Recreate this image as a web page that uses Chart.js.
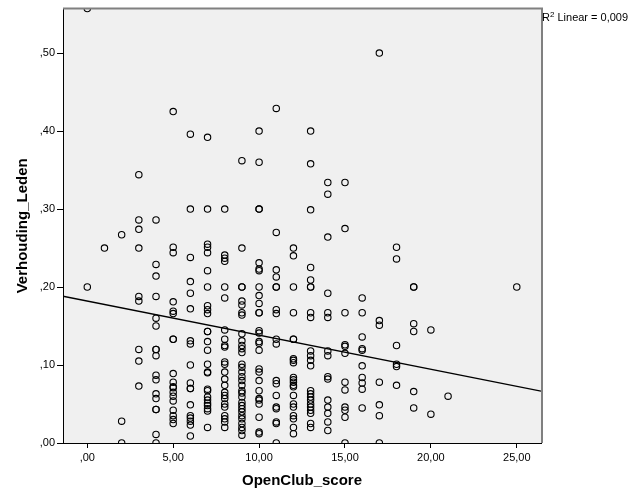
<!DOCTYPE html>
<html>
<head>
<meta charset="utf-8">
<script src="https://cdn.jsdelivr.net/npm/chart.js@4"></script>
<style>
  html, body { margin: 0; padding: 0; background: #fff; }
  canvas { display: block; }
</style>
</head>
<body>
<canvas id="scatter" width="629" height="504"></canvas>
<script>
// OpenClub_score values that occur (x), with the Verhouding_Leden values read per score
const scores = [0, 1, 2, 3, 4, 5, 6, 7, 8, 9, 10, 11, 12, 13, 14, 15, 16, 17, 18, 19, 20, 21, 25];
const ratiosByScore = [
    [0.557, 0.200],
    [0.250],
    [0.267, 0.028, 0.000],
    [0.344, 0.286, 0.274, 0.250, 0.188, 0.182, 0.120, 0.105, 0.073],
    [0.286, 0.229, 0.214, 0.188, 0.160, 0.150, 0.120, 0.120, 0.112, 0.087, 0.081, 0.063, 0.057, 0.043, 0.043, 0.011, 0.000],
    [0.425, 0.251, 0.244, 0.181, 0.169, 0.166, 0.133, 0.133, 0.089, 0.078, 0.072, 0.071, 0.065, 0.060, 0.054, 0.042, 0.035, 0.030, 0.025],
    [0.396, 0.300, 0.238, 0.207, 0.192, 0.172, 0.131, 0.127, 0.100, 0.077, 0.070, 0.070, 0.049, 0.035, 0.032, 0.028, 0.023, 0.009],
    [0.392, 0.300, 0.255, 0.251, 0.244, 0.221, 0.200, 0.176, 0.171, 0.166, 0.143, 0.143, 0.130, 0.119, 0.101, 0.091, 0.090, 0.069, 0.067, 0.059, 0.055, 0.051, 0.048, 0.044, 0.041, 0.020],
    [0.300, 0.241, 0.237, 0.233, 0.200, 0.186, 0.145, 0.133, 0.125, 0.123, 0.104, 0.101, 0.091, 0.082, 0.074, 0.065, 0.061, 0.057, 0.050, 0.046, 0.035, 0.031, 0.027, 0.020],
    [0.362, 0.250, 0.200, 0.200, 0.182, 0.177, 0.167, 0.164, 0.140, 0.131, 0.125, 0.121, 0.116, 0.101, 0.097, 0.091, 0.085, 0.080, 0.074, 0.067, 0.064, 0.059, 0.052, 0.048, 0.044, 0.040, 0.035, 0.031, 0.025, 0.020, 0.016, 0.010],
    [0.400, 0.360, 0.300, 0.300, 0.231, 0.223, 0.221, 0.200, 0.189, 0.179, 0.167, 0.167, 0.144, 0.141, 0.130, 0.128, 0.119, 0.095, 0.091, 0.080, 0.067, 0.057, 0.055, 0.050, 0.033, 0.014, 0.012],
    [0.429, 0.270, 0.222, 0.213, 0.200, 0.200, 0.171, 0.166, 0.133, 0.127, 0.080, 0.076, 0.061, 0.046, 0.044, 0.027, 0.025, 0.000],
    [0.250, 0.240, 0.200, 0.167, 0.133, 0.133, 0.108, 0.106, 0.103, 0.084, 0.081, 0.078, 0.074, 0.072, 0.061, 0.050, 0.046, 0.035, 0.031, 0.020, 0.012],
    [0.400, 0.358, 0.299, 0.225, 0.209, 0.200, 0.200, 0.167, 0.161, 0.118, 0.112, 0.106, 0.099, 0.067, 0.063, 0.059, 0.055, 0.050, 0.046, 0.042, 0.038, 0.025, 0.020],
    [0.334, 0.319, 0.264, 0.192, 0.167, 0.161, 0.118, 0.112, 0.085, 0.082, 0.055, 0.046, 0.038, 0.027, 0.016],
    [0.334, 0.275, 0.167, 0.126, 0.124, 0.115, 0.078, 0.068, 0.046, 0.042, 0.033, 0.000],
    [0.186, 0.167, 0.136, 0.121, 0.119, 0.099, 0.084, 0.077, 0.069, 0.045],
    [0.500, 0.157, 0.151, 0.078, 0.049, 0.035, 0.000],
    [0.251, 0.236, 0.125, 0.101, 0.098, 0.074],
    [0.200, 0.200, 0.153, 0.143, 0.066, 0.045],
    [0.145, 0.037],
    [0.060],
    [0.200]
];

// linear fit (R² = 0,009)
const fitIntercept = 0.182;
const fitSlope = -0.00437;
const rSquaredLabel = '0,009';

const xTickValues = [0, 5, 10, 15, 20, 25];
const yTickValues = [0, 0.1, 0.2, 0.3, 0.4, 0.5];
const xMin = -1.414, xMax = 26.41;
const yMin = 0, yMax = 0.557;

const points = [];
scores.forEach(function (s, i) {
    ratiosByScore[i].forEach(function (v) {
        points.push({ x: s, y: v });
    });
});

const fitPoints = [xMin, xMax].map(function (x) {
    return { x: x, y: fitIntercept + fitSlope * x };
});

const fontFamily = '"Liberation Sans", Arial, sans-serif';

// grey plot background plus the grey top/right frame and R² note
const frame = {
    id: 'frame',
    beforeDraw: function (chart) {
        const a = chart.chartArea, ctx = chart.ctx;
        ctx.save();
        ctx.fillStyle = '#f0f0f0';
        ctx.fillRect(a.left, a.top, a.right - a.left, a.bottom - a.top);
        ctx.restore();
    },
    afterDraw: function (chart) {
        const a = chart.chartArea, ctx = chart.ctx;
        ctx.save();
        ctx.strokeStyle = '#808080';
        ctx.lineWidth = 2;
        ctx.beginPath();
        ctx.moveTo(a.left, a.top);
        ctx.lineTo(a.right + 1, a.top);
        ctx.lineTo(a.right + 1, a.bottom);
        ctx.stroke();

        ctx.fillStyle = '#000';
        ctx.textBaseline = 'alphabetic';
        let x = a.right + 1;
        const y = a.top + 12;
        ctx.font = '11px ' + fontFamily;
        ctx.fillText('R', x, y);
        x += ctx.measureText('R').width;
        ctx.font = '8px ' + fontFamily;
        ctx.fillText('2', x, y - 4);
        x += ctx.measureText('2').width;
        ctx.font = '11px ' + fontFamily;
        ctx.fillText(' Linear = ' + rSquaredLabel, x, y);
        ctx.restore();
    }
};

new Chart(document.getElementById('scatter'), {
    type: 'scatter',
    data: {
        datasets: [{
            data: points,
            pointRadius: 3.2,
            pointHoverRadius: 3.2,
            pointBorderWidth: 1.1,
            borderColor: '#000',
            backgroundColor: 'rgba(0,0,0,0)'
        }, {
            type: 'line',
            data: fitPoints,
            borderColor: '#000',
            borderWidth: 1.3,
            pointRadius: 0,
            fill: false
        }]
    },
    options: {
        responsive: false,
        animation: false,
        layout: { padding: { top: 7, right: 88, bottom: 0, left: 0 } },
        plugins: {
            legend: { display: false },
            tooltip: { enabled: false }
        },
        scales: {
            x: {
                type: 'linear',
                min: xMin,
                max: xMax,
                afterBuildTicks: function (scale) {
                    scale.ticks = xTickValues.map(function (v) { return { value: v }; });
                },
                afterFit: function (scale) { scale.height = 61; },
                grid: { drawOnChartArea: false, drawTicks: true, tickLength: 5, color: '#000' },
                border: { display: true, color: '#000', width: 1 },
                ticks: {
                    padding: 3,
                    color: '#000',
                    font: { family: fontFamily, size: 11 },
                    callback: function (v) { return v === 0 ? ',00' : v.toFixed(2).replace('.', ','); }
                },
                title: {
                    display: true,
                    text: 'OpenClub_score',
                    color: '#000',
                    font: { family: fontFamily, size: 15, weight: 'bold' },
                    padding: { top: 0, bottom: 14 }
                }
            },
            y: {
                type: 'linear',
                min: yMin,
                max: yMax,
                afterBuildTicks: function (scale) {
                    scale.ticks = yTickValues.map(function (v) { return { value: v }; });
                },
                afterFit: function (scale) { scale.width = 63; },
                grid: { drawOnChartArea: false, drawTicks: true, tickLength: 6, color: '#000' },
                border: { display: true, color: '#000', width: 1 },
                ticks: {
                    padding: 2,
                    color: '#000',
                    font: { family: fontFamily, size: 11 },
                    callback: function (v) { return v.toFixed(2).replace('0.', ','); }
                },
                title: {
                    display: true,
                    text: 'Verhouding_Leden',
                    color: '#000',
                    font: { family: fontFamily, size: 15, weight: 'bold' },
                    padding: { top: 14, bottom: 0 }
                }
            }
        }
    },
    plugins: [frame]
});
</script>
</body>
</html>
